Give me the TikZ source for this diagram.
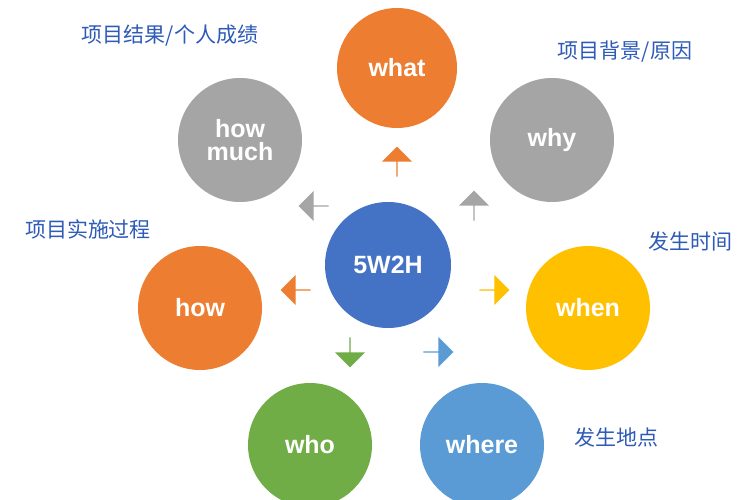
\documentclass[tikz,border=0pt]{standalone}
\usepackage{fontspec}
\setsansfont{Liberation Sans}
\newfontfamily\cjk{Noto Sans CJK SC}
\usetikzlibrary{shapes.arrows}
\definecolor{cor}{HTML}{ED7D31}
\definecolor{cgr}{HTML}{A5A5A5}
\definecolor{cye}{HTML}{FFC000}
\definecolor{cgn}{HTML}{70AD47}
\definecolor{cbl}{HTML}{5B9BD5}
\definecolor{cce}{HTML}{4472C4}
\definecolor{clab}{HTML}{2E5BB8}
\begin{document}
\begin{tikzpicture}[x=1pt,y=-1pt,
  ball/.style={circle,minimum size=124pt,inner sep=0pt,text=white,font=\sffamily\bfseries\fontsize{25}{27}\selectfont,align=center},
  arr/.style={single arrow,draw=none,minimum width=30pt,minimum height=30pt,single arrow head extend=5pt,inner sep=0pt,single arrow tip angle=90},
  lab/.style={text=clab,font=\cjk\fontsize{21}{23}\selectfont,inner sep=0pt}]
\useasboundingbox[fill=white] (0,0) rectangle (750,500);
\node[ball,fill=cce,minimum size=126pt] (c) at (388,265) {5W2H};
\node[ball,fill=cor,minimum size=120pt] (what) at (397,68) {what};
\node[ball,fill=cgr] (why) at (552,140) {why};
\node[ball,fill=cgr] (hm) at (240,140) {how\\[-4pt]much};
\node[ball,fill=cor] (how) at (200,308) {how};
\node[ball,fill=cye] (when) at (588,308) {when};
\node[ball,fill=cgn] (who) at (310,445) {who};
\node[ball,fill=cbl] (where) at (482,445) {where};
\node[arr,fill=cor,shape border rotate=90] (a1) at (397,162) {};
\node[arr,fill=cgr,shape border rotate=45] (a2) at (474,206) {};
\node[arr,fill=cgr,shape border rotate=135] (a3) at (314,206) {};
\node[arr,fill=cor,shape border rotate=180] (a4) at (296,290) {};
\node[arr,fill=cye,shape border rotate=0] (a5) at (494,290) {};
\node[arr,fill=cgn,shape border rotate=225] (a6) at (350,352) {};
\node[arr,fill=cbl,shape border rotate=315] (a7) at (438,352) {};
\node[lab] (l1) at (170,36) {项目结果/个人成绩};
\node[lab] (l2) at (625,52) {项目背景/原因};
\node[lab] (l3) at (88,229) {项目实施过程};
\node[lab] (l4) at (690,242) {发生时间};
\node[lab] (l5) at (616,438) {发生地点};
\end{tikzpicture}
\end{document}
